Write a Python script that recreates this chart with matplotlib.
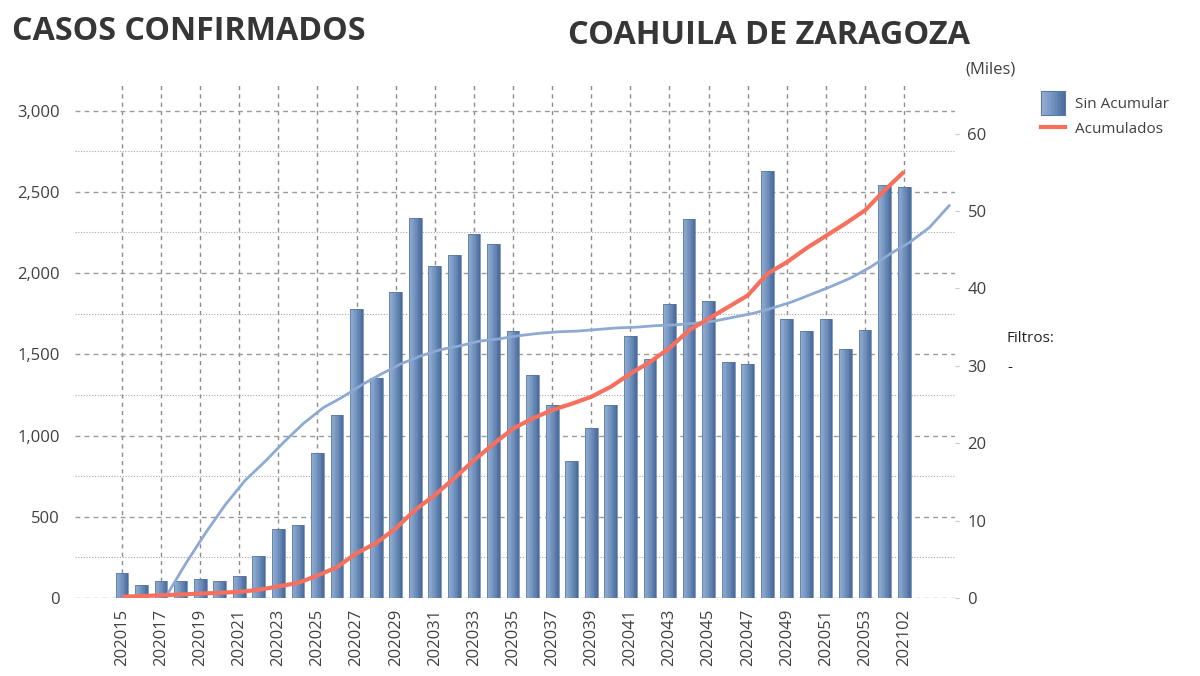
import numpy as np
import matplotlib
matplotlib.use('Agg')
import matplotlib.pyplot as plt
from matplotlib.colors import LinearSegmentedColormap
from matplotlib.patches import Rectangle
from matplotlib.lines import Line2D
from matplotlib.legend_handler import HandlerBase
from matplotlib.ticker import FuncFormatter

semanas = ['202015', '202016', '202017', '202018', '202019', '202020', '202021',
           '202022', '202023', '202024', '202025', '202026', '202027', '202028',
           '202029', '202030', '202031', '202032', '202033', '202034', '202035',
           '202036', '202037', '202038', '202039', '202040', '202041', '202042',
           '202043', '202044', '202045', '202046', '202047', '202048', '202049',
           '202050', '202051', '202052', '202053', '202101', '202102']

sin_acumular = [155, 82, 103, 103, 115, 103, 135, 260, 425, 451, 891, 1129,
                1778, 1355, 1882, 2336, 2046, 2110, 2243, 2178, 1645, 1375,
                1190, 844, 1047, 1190, 1615, 1470, 1810, 2330, 1825, 1455,
                1440, 2625, 1715, 1645, 1715, 1535, 1650, 2540, 2530]

# miles
acumulados = [0.17, 0.25, 0.35, 0.45, 0.57, 0.67, 0.8, 1.06, 1.5, 1.95, 2.9,
              4.0, 5.8, 7.1, 9.0, 11.4, 13.3, 15.5, 17.8, 19.9, 21.9, 23.2,
              24.3, 25.1, 26.0, 27.3, 29.0, 30.5, 32.3, 34.6, 36.1, 37.6,
              39.1, 41.9, 43.4, 45.2, 46.8, 48.4, 50.1, 52.7, 55.1]

# linea azul clara (eje derecho, miles), desplazada respecto a las barras
tendencia = [0.4, 4.6, 8.5, 12.1, 15.2, 17.6, 20.2, 22.6, 24.6, 26.0, 27.6,
             29.0, 30.3, 31.3, 32.1, 32.6, 33.2, 33.5, 33.9, 34.2, 34.4, 34.5,
             34.7, 34.9, 35.0, 35.2, 35.3, 35.5, 35.8, 36.3, 36.8, 37.5, 38.3,
             39.3, 40.3, 41.4, 42.8, 44.5, 46.0, 47.9, 50.7]
tendencia_desfase = 2.3

grad = LinearSegmentedColormap.from_list('barra', ['#93aed3', '#7191bd', '#4a6b9d'])
GRIS = '#404040'
FUENTE = ['Open Sans', 'DejaVu Sans']
plt.rcParams['font.family'] = FUENTE


class GradientHandler(HandlerBase):
    # cuadro con degradado, del ancho del handle y centrado en la fila
    def create_artists(self, legend, orig_handle, xdescent, ydescent,
                       width, height, fontsize, trans):
        n = 14
        y0 = -ydescent + height / 2 - width / 2
        arts = []
        for k in range(n):
            arts.append(Rectangle((-xdescent + width * k / n, y0), width / n + 0.3,
                                  width, facecolor=grad(k / (n - 1)),
                                  edgecolor='none', transform=trans))
        arts.append(Rectangle((-xdescent, y0), width, width, facecolor='none',
                              edgecolor='#5c79a4', lw=0.8, transform=trans))
        return arts


fig = plt.figure(figsize=(12, 6.76), dpi=100)
ax = fig.add_axes([75 / 1200, 1 - 598 / 676, 880 / 1200, 513 / 676])
ax2 = ax.twinx()

x = np.arange(len(semanas))
ancho = 0.65
n_tiras = 16
for k in range(n_tiras):
    off = -ancho / 2 + ancho * (k + 0.5) / n_tiras
    ax.bar(x + off, sin_acumular, width=ancho / n_tiras * 1.05,
           color=grad(k / (n_tiras - 1)), linewidth=0, zorder=2)
ax.bar(x, sin_acumular, width=ancho, fill=False, edgecolor='#56769f',
       linewidth=0.5, zorder=3)

xt = np.arange(len(tendencia)) + tendencia_desfase
ax2.plot(xt, tendencia, color='#8eaad2', lw=2.0, zorder=4)
ax2.plot(x, acumulados, color='#f7705e', lw=3.0, zorder=5,
         solid_capstyle='butt')

ax.set_xlim(-2.4, 42.6)
ax.set_ylim(0, 3157)
ax2.set_ylim(0, 66.3)

ax.set_xticks(x[::2])
ax.set_xticklabels(semanas[::2], rotation=90)
ax.set_yticks([0, 500, 1000, 1500, 2000, 2500, 3000])
ax.set_yticks([250, 750, 1250, 1750, 2250, 2750], minor=True)
ax.yaxis.set_major_formatter(FuncFormatter(lambda v, p: f'{v:,.0f}'))
ax2.set_yticks([0, 10, 20, 30, 40, 50, 60])

ax.tick_params(axis='y', which='both', length=0, pad=11, labelsize=12, labelcolor=GRIS)
ax.tick_params(axis='x', length=0, pad=8, labelsize=12, labelcolor=GRIS)
ax2.tick_params(axis='y', length=3, width=0.8, color='#c8c8c8', pad=6,
                labelsize=12, labelcolor=GRIS)

ax.set_axisbelow(True)
ax.grid(axis='x', color='#8c8c8c', linestyle=(0, (3, 3)), lw=1.0)
ax.grid(axis='y', which='major', color='#9a9a9a', linestyle=(0, (3.5, 3)), lw=1.0)
ax.grid(axis='y', which='minor', color='#a8a8a8', linestyle=(0, (1, 1.5)), lw=0.8)

for a in (ax, ax2):
    for s in a.spines.values():
        s.set_visible(False)
ax2.patch.set_visible(False)

fig.text(12 / 1200, 1 - 31 / 676, 'CASOS CONFIRMADOS', fontsize=23.2,
         fontweight='bold', color='#363636', va='center', ha='left')
fig.text(568 / 1200, 1 - 36 / 676, 'COAHUILA DE ZARAGOZA', fontsize=23.4,
         fontweight='bold', color='#363636', va='center', ha='left')
fig.text(965 / 1200, 1 - 70 / 676, '(Miles)', fontsize=12, color=GRIS,
         va='center', ha='left')

handles = [Rectangle((0, 0), 1, 1), Line2D([], [], color='#f7705e', lw=3)]
fig.legend(handles, ['Sin Acumular', 'Acumulados'],
           handler_map={Rectangle: GradientHandler()},
           loc='upper left', bbox_to_anchor=(1041 / 1200, 1 - 96 / 676),
           frameon=False, fontsize=11, handlelength=1.6, handleheight=1.0,
           handletextpad=0.6, labelspacing=0.57, borderpad=0, borderaxespad=0,
           labelcolor=GRIS)

fig.text(1007 / 1200, 1 - 338 / 676, 'Filtros:', fontsize=11, color='#222222',
         va='center', ha='left')
fig.text(1007 / 1200, 1 - 367 / 676, '-', fontsize=11, color='#222222',
         va='center', ha='left')

fig.savefig('out.png', dpi=100)
